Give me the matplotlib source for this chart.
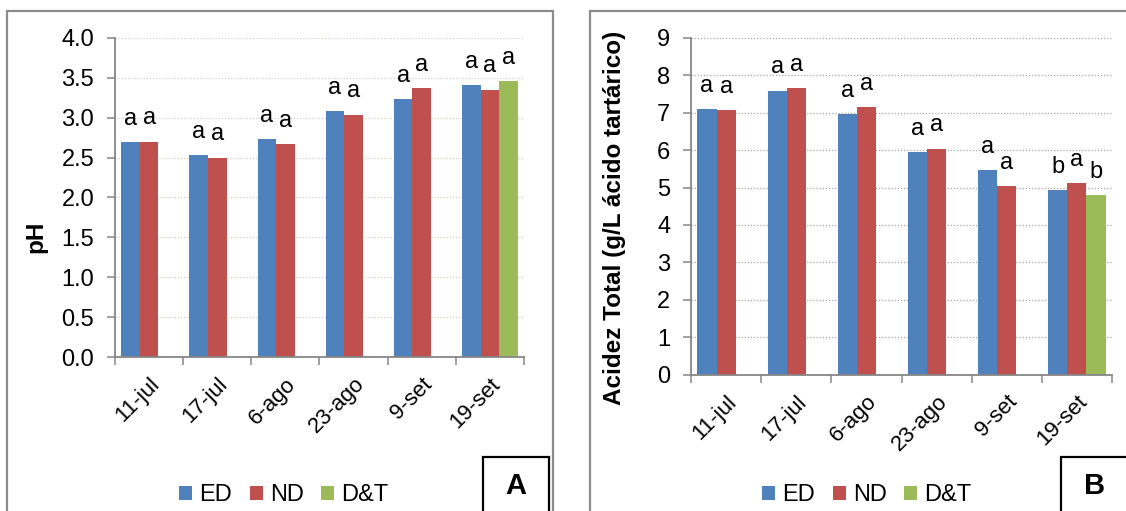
import numpy as np
import matplotlib.pyplot as plt
from matplotlib.patches import Rectangle, Patch

plt.rcParams['font.family'] = ['Liberation Sans', 'DejaVu Sans']

dates = ["11-jul", "17-jul", "6-ago", "23-ago", "9-set", "19-set"]
series_names = ["ED", "ND", "D&T"]
colors = ["#4F81BD", "#C0504D", "#9BBB59"]

# panel A: pH
ph_ed = [2.69, 2.53, 2.73, 3.08, 3.23, 3.41]
ph_nd = [2.70, 2.50, 2.67, 3.04, 3.37, 3.35]
ph_dt = [np.nan, np.nan, np.nan, np.nan, np.nan, 3.46]
ph_letters_ed = ["a", "a", "a", "a", "a", "a"]
ph_letters_nd = ["a", "a", "a", "a", "a", "a"]
ph_letters_dt = ["", "", "", "", "", "a"]

# panel B: acidez total
at_ed = [7.09, 7.59, 6.97, 5.94, 5.46, 4.93]
at_nd = [7.07, 7.66, 7.15, 6.04, 5.04, 5.12]
at_dt = [np.nan, np.nan, np.nan, np.nan, np.nan, 4.79]
at_letters_ed = ["a", "a", "a", "a", "a", "b"]
at_letters_nd = ["a", "a", "a", "a", "a", "a"]
at_letters_dt = ["", "", "", "", "", "b"]

axis_gray = "#868686"


def draw_panel(ax, series, letters, ylim, yticks, ytickfmt, ylabel, grid_color, label_x, label_y):
    x = np.arange(len(dates))
    w = 0.272
    offsets = [-w, 0, w]
    for i, vals in enumerate(series):
        vals = np.array(vals, dtype=float)
        ok = ~np.isnan(vals)
        ax.bar(x[ok] + offsets[i], vals[ok], w, color=colors[i], zorder=2)
        for xi, v, lab in zip(x, vals, letters[i]):
            if lab and not np.isnan(v):
                ax.annotate(lab, (xi + offsets[i], v), xytext=(0, 12.5), textcoords="offset points",
                            ha="center", va="baseline", fontsize=17)
    ax.set_xlim(-0.5, len(dates) - 0.5)
    ax.set_ylim(*ylim)
    ax.set_yticks(yticks)
    ax.set_yticklabels([ytickfmt.format(t) for t in yticks], fontsize=17)
    ax.set_xticks(x)
    ax.set_xticklabels(dates, fontsize=16, rotation=45, ha="right", va="top", rotation_mode="anchor")
    ax.set_xticks(np.arange(len(dates) + 1) - 0.5, minor=True)
    ax.tick_params(axis="x", which="major", length=0, pad=12)
    ax.tick_params(axis="x", which="minor", length=6, width=1.1, color=axis_gray)
    ax.tick_params(axis="y", length=6, width=1.1, color=axis_gray, pad=9)
    for s in ["top", "right"]:
        ax.spines[s].set_visible(False)
    for s in ["left", "bottom"]:
        ax.spines[s].set_color(axis_gray)
        ax.spines[s].set_linewidth(1.3)
    ax.yaxis.grid(True, linestyle=(0, (1, 1.5)), color=grid_color, linewidth=0.9)
    ax.set_axisbelow(True)
    ax.set_ylabel(ylabel, fontsize=17.5, fontweight="bold")
    ax.yaxis.set_label_coords(label_x, label_y, transform=fig.transFigure)


fig = plt.figure(figsize=(11.26, 5.11), dpi=100)
W, H = 1126, 511

axA = fig.add_axes([115 / W, 1 - 357 / H, 409 / W, 319 / H])
axB = fig.add_axes([691 / W, 1 - 374.5 / H, 421 / W, 336.5 / H])

draw_panel(axA, [ph_ed, ph_nd, ph_dt], [ph_letters_ed, ph_letters_nd, ph_letters_dt],
           (0, 4.0), np.arange(0, 4.01, 0.5), "{:.1f}", "pH", "#d5d1b4", 47 / W, 1 - 237 / H)
draw_panel(axB, [at_ed, at_nd, at_dt], [at_letters_ed, at_letters_nd, at_letters_dt],
           (0, 9), np.arange(0, 10, 1), "{:.0f}", "Acidez Total (g/L ácido tartárico)", "#a6a6a6",
           626 / W, 1 - 218 / H)

# panel borders
for x0, x1 in [(7, 553), (590, 1140)]:
    fig.patches.append(Rectangle((x0 / W, -0.05), (x1 - x0) / W, 1 - 11 / H + 0.05,
                                 transform=fig.transFigure, fill=False, edgecolor="#8c8c8c", linewidth=1.6))

# letter boxes
for x0, x1, lab in [(483, 549, "A"), (1061, 1140, "B")]:
    fig.patches.append(Rectangle((x0 / W, -0.05), (x1 - x0) / W, 1 - 457 / H + 0.05,
                                 transform=fig.transFigure, fill=False, edgecolor="black", linewidth=1.6))
    cx = (x0 + min(x1, 1129)) / 2 / W
    fig.text(cx, 1 - 486 / H, lab, ha="center", va="center", fontsize=21, fontweight="bold")

# legends
handles = [Patch(facecolor=c, label=n) for c, n in zip(colors, series_names)]
for cx in [284, 867]:
    fig.legend(handles=handles, loc="center", bbox_to_anchor=(cx / W, 1 - 495 / H), ncol=3,
               frameon=False, fontsize=17, handlelength=0.55, handleheight=0.55,
               handletextpad=0.3, columnspacing=0.75, borderpad=0, borderaxespad=0)

fig.savefig("out.png", dpi=100)
